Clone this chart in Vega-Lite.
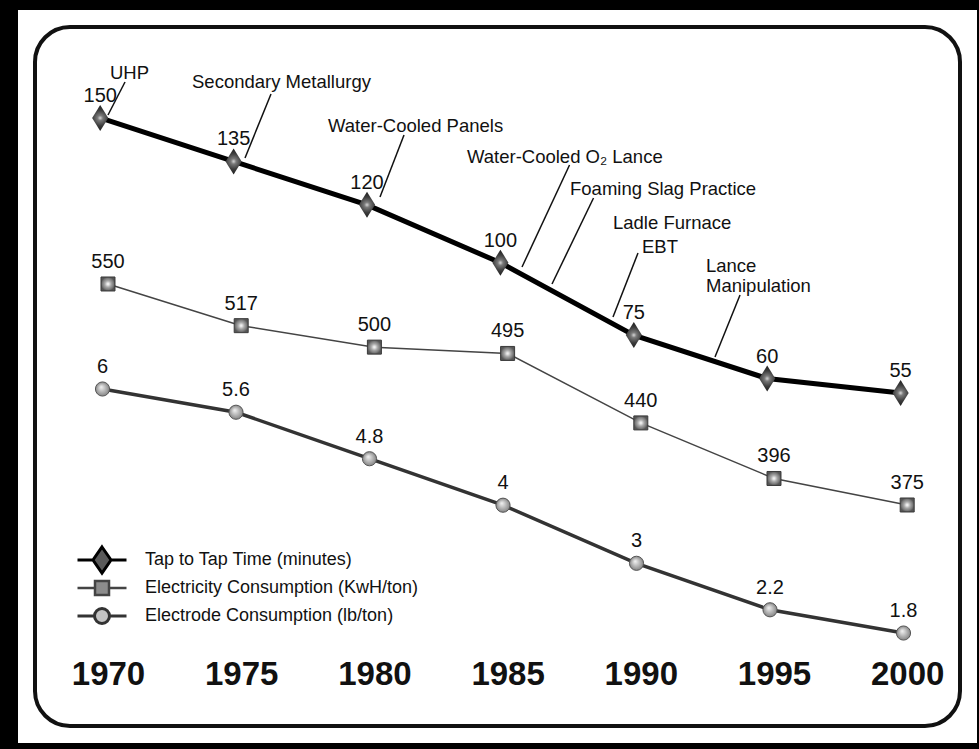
{
  "$schema": "https://vega.github.io/schema/vega-lite/v6.json",
  "width": 925,
  "height": 699,
  "autosize": "none",
  "padding": {"left": 35, "top": 27, "right": 19, "bottom": 23},
  "background": "#000000",
  "config": {
    "view": {"fill": "#ffffff", "stroke": "#ffffff", "strokeWidth": 34},
    "font": "Liberation Sans"
  },
  "datasets": {
    "tap": [
      {"year": 1970, "v": 150, "series": "Tap to Tap Time (minutes)"},
      {"year": 1975, "v": 135, "series": "Tap to Tap Time (minutes)"},
      {"year": 1980, "v": 120, "series": "Tap to Tap Time (minutes)"},
      {"year": 1985, "v": 100, "series": "Tap to Tap Time (minutes)"},
      {"year": 1990, "v": 75, "series": "Tap to Tap Time (minutes)"},
      {"year": 1995, "v": 60, "series": "Tap to Tap Time (minutes)"},
      {"year": 2000, "v": 55, "series": "Tap to Tap Time (minutes)"}
    ],
    "elec": [
      {"year": 1970, "v": 550, "series": "Electricity Consumption (KwH/ton)"},
      {"year": 1975, "v": 517, "series": "Electricity Consumption (KwH/ton)"},
      {"year": 1980, "v": 500, "series": "Electricity Consumption (KwH/ton)"},
      {"year": 1985, "v": 495, "series": "Electricity Consumption (KwH/ton)"},
      {"year": 1990, "v": 440, "series": "Electricity Consumption (KwH/ton)"},
      {"year": 1995, "v": 396, "series": "Electricity Consumption (KwH/ton)"},
      {"year": 2000, "v": 375, "series": "Electricity Consumption (KwH/ton)"}
    ],
    "electrode": [
      {"year": 1970, "v": 6, "series": "Electrode Consumption (lb/ton)"},
      {"year": 1975, "v": 5.6, "series": "Electrode Consumption (lb/ton)"},
      {"year": 1980, "v": 4.8, "series": "Electrode Consumption (lb/ton)"},
      {"year": 1985, "v": 4, "series": "Electrode Consumption (lb/ton)"},
      {"year": 1990, "v": 3, "series": "Electrode Consumption (lb/ton)"},
      {"year": 1995, "v": 2.2, "series": "Electrode Consumption (lb/ton)"},
      {"year": 2000, "v": 1.8, "series": "Electrode Consumption (lb/ton)"}
    ],
    "notes": [
      {"label": "UHP", "tx": 1970.367, "ty": 163.47},
      {"label": "Secondary Metallurgy", "tx": 1973.441, "ty": 160.36},
      {"label": "Water-Cooled Panels", "tx": 1978.538, "ty": 145.16},
      {"label": "Water-Cooled O₂ Lance", "tx": 1983.748, "ty": 134.45},
      {"label": "Foaming Slag Practice", "tx": 1987.609, "ty": 123.40},
      {"label": "Ladle Furnace", "tx": 1989.220, "ty": 111.65},
      {"label": "EBT", "tx": 1990.307, "ty": 103.36},
      {"label": "Lance\nManipulation", "tx": 1992.706, "ty": 96.80}
    ],
    "leaders": [
      {"label": "UHP", "x1": 1970.292, "v1": 151.03, "x2": 1970.930, "v2": 162.43},
      {"label": "Secondary Metallurgy", "x1": 1975.427, "v1": 136.18, "x2": 1976.402, "v2": 158.29},
      {"label": "Water-Cooled Panels", "x1": 1980.487, "v1": 122.71, "x2": 1981.387, "v2": 144.12},
      {"label": "Water-Cooled O₂ Lance", "x1": 1985.810, "v1": 98.53, "x2": 1987.591, "v2": 133.76},
      {"label": "Foaming Slag Practice", "x1": 1986.934, "v1": 92.66, "x2": 1988.490, "v2": 122.36},
      {"label": "EBT", "x1": 1989.220, "v1": 81.26, "x2": 1990.157, "v2": 103.36},
      {"label": "Lance Manipulation", "x1": 1993.043, "v1": 67.44, "x2": 1993.981, "v2": 88.86}
    ]
  },
  "layer": [
    {
      "data": {"values": [{}]},
      "mark": {"type": "rect", "fill": "#ffffff", "fillOpacity": 0, "stroke": "#111111", "strokeWidth": 4, "cornerRadius": 35},
      "encoding": {}
    },
    {
      "layer": [
        {
          "data": {"name": "tap"},
          "mark": {"type": "line", "strokeWidth": 5},
          "encoding": {
            "x": {"field": "year", "type": "quantitative", "scale": {"domain": [1967.556, 2002.226], "nice": false, "zero": false}, "axis": null},
            "y": {"field": "v", "type": "quantitative", "scale": {"domain": [-60.02, 181.43], "nice": false, "zero": false}, "axis": null},
            "color": {
              "field": "series", "type": "nominal",
              "scale": {"domain": ["Tap to Tap Time (minutes)", "Electricity Consumption (KwH/ton)", "Electrode Consumption (lb/ton)"], "range": ["#000000", "#444444", "#333333"]},
              "legend": {
                "title": null, "orient": "none", "direction": "vertical", "legendX": 58, "legendY": 524, "padding": 0,
                "symbolSize": 400, "symbolOffset": 0, "labelOffset": 34, "rowPadding": -5, "gridAlign": "all",
                "labelFont": "Liberation Sans", "labelFontSize": 18, "labelColor": "#111111", "labelLimit": 400,
                "encode": {
                  "symbols": {
                    "update": {
                      "shape": {"signal": "datum.value === 'Tap to Tap Time (minutes)' ? 'M-2.45,0H-0.9M0.9,0H2.45M0,-1.3L0.9,0L0,1.3L-0.9,0Z' : datum.value === 'Electricity Consumption (KwH/ton)' ? 'M-2.45,0H-0.7M0.7,0H2.45M-0.7,-0.7H0.7V0.7H-0.7Z' : 'M-2.45,0H-0.75M0.75,0H2.45M0.75,0A0.75,0.75,0,1,1,-0.75,0A0.75,0.75,0,1,1,0.75,0Z'"},
                      "size": {"value": 400},
                      "fill": {"signal": "datum.value === 'Tap to Tap Time (minutes)' ? '#5a5a5a' : datum.value === 'Electricity Consumption (KwH/ton)' ? '#8c8c8c' : '#c4c4c4'"},
                      "strokeWidth": {"signal": "datum.value === 'Tap to Tap Time (minutes)' ? 3 : datum.value === 'Electricity Consumption (KwH/ton)' ? 2.5 : 3"},
                      "opacity": {"value": 1},
                      "fillOpacity": {"value": 1},
                      "strokeOpacity": {"value": 1}
                    }
                  }
                }
              }
            }
          }
        },
        {
          "data": {"name": "leaders"},
          "mark": {"type": "rule", "color": "#111111", "strokeWidth": 1.5},
          "encoding": {
            "x": {"field": "x1", "type": "quantitative", "scale": {"domain": [1967.556, 2002.226], "nice": false, "zero": false}, "axis": null},
            "y": {"field": "v1", "type": "quantitative", "scale": {"domain": [-60.02, 181.43], "nice": false, "zero": false}, "axis": null},
            "x2": {"field": "x2"},
            "y2": {"field": "v2"}
          }
        },
        {
          "data": {"name": "notes"},
          "mark": {"type": "text", "align": "left", "baseline": "alphabetic", "fontSize": 18.5, "color": "#111111", "lineBreak": "\n", "lineHeight": 20},
          "encoding": {
            "x": {"field": "tx", "type": "quantitative", "scale": {"domain": [1967.556, 2002.226], "nice": false, "zero": false}, "axis": null},
            "y": {"field": "ty", "type": "quantitative", "scale": {"domain": [-60.02, 181.43], "nice": false, "zero": false}, "axis": null},
            "text": {"field": "label", "type": "nominal"}
          }
        },
        {
          "data": {"name": "tap"},
          "mark": {
            "type": "point", "filled": true, "size": 676, "opacity": 1, "strokeWidth": 0, "shape": "M0,-1L0.62,0L0,1L-0.62,0Z",
            "fill": {"gradient": "radial", "x1": 0.5, "y1": 0.5, "r1": 0, "x2": 0.5, "y2": 0.5, "r2": 0.5,
              "stops": [{"offset": 0, "color": "#dcdcdc"}, {"offset": 0.2, "color": "#7a7a7a"}, {"offset": 0.6, "color": "#3c3c3c"}, {"offset": 1, "color": "#1e1e1e"}]}
          },
          "encoding": {
            "x": {"field": "year", "type": "quantitative", "scale": {"domain": [1967.556, 2002.226], "nice": false, "zero": false}, "axis": null},
            "y": {"field": "v", "type": "quantitative", "scale": {"domain": [-60.02, 181.43], "nice": false, "zero": false}, "axis": null}
          }
        },
        {
          "data": {"name": "tap"},
          "mark": {"type": "text", "dy": -16, "baseline": "alphabetic", "fontSize": 20, "color": "#111111"},
          "encoding": {
            "x": {"field": "year", "type": "quantitative", "scale": {"domain": [1967.556, 2002.226], "nice": false, "zero": false}, "axis": null},
            "y": {"field": "v", "type": "quantitative", "scale": {"domain": [-60.02, 181.43], "nice": false, "zero": false}, "axis": null},
            "text": {"field": "v", "type": "nominal"}
          }
        }
      ]
    },
    {
      "data": {"name": "elec"},
      "layer": [
        {
          "mark": {"type": "line", "strokeWidth": 1.5},
          "encoding": {
            "x": {"field": "year", "type": "quantitative", "scale": {"domain": [1967.26, 2001.982], "nice": false, "zero": false},
              "axis": {"orient": "bottom", "values": [1970, 1975, 1980, 1985, 1990, 1995, 2000], "format": "d", "offset": -52, "domain": false, "ticks": false, "tickSize": 0, "grid": false, "title": null, "labelPadding": 0, "labelBaseline": "middle", "labelFont": "Liberation Sans", "labelFontWeight": "bold", "labelFontSize": 33, "labelColor": "#111111", "labelFlush": false, "labelOverlap": false}},
            "y": {"field": "v", "type": "quantitative", "scale": {"domain": [200, 753.5], "nice": false, "zero": false}, "axis": null},
            "color": {"field": "series", "type": "nominal", "scale": {"domain": ["Tap to Tap Time (minutes)", "Electricity Consumption (KwH/ton)", "Electrode Consumption (lb/ton)"], "range": ["#000000", "#444444", "#333333"]}}
          }
        },
        {
          "mark": {
            "type": "point", "filled": true, "size": 196, "opacity": 1, "shape": "square", "stroke": "#3a3a3a", "strokeWidth": 1,
            "fill": {"gradient": "radial", "x1": 0.5, "y1": 0.5, "r1": 0, "x2": 0.5, "y2": 0.5, "r2": 0.5,
              "stops": [{"offset": 0, "color": "#ffffff"}, {"offset": 0.2, "color": "#dcdcdc"}, {"offset": 0.45, "color": "#a8a8a8"}, {"offset": 0.8, "color": "#7a7a7a"}, {"offset": 1, "color": "#555555"}]}
          },
          "encoding": {
            "x": {"field": "year", "type": "quantitative", "scale": {"domain": [1967.26, 2001.982], "nice": false, "zero": false}},
            "y": {"field": "v", "type": "quantitative", "scale": {"domain": [200, 753.5], "nice": false, "zero": false}, "axis": null}
          }
        },
        {
          "mark": {"type": "text", "dy": -16, "baseline": "alphabetic", "fontSize": 20, "color": "#111111"},
          "encoding": {
            "x": {"field": "year", "type": "quantitative", "scale": {"domain": [1967.26, 2001.982], "nice": false, "zero": false}},
            "y": {"field": "v", "type": "quantitative", "scale": {"domain": [200, 753.5], "nice": false, "zero": false}, "axis": null},
            "text": {"field": "v", "type": "nominal"}
          }
        }
      ]
    },
    {
      "data": {"name": "electrode"},
      "layer": [
        {
          "mark": {"type": "line", "strokeWidth": 3.5},
          "encoding": {
            "x": {"field": "year", "type": "quantitative", "scale": {"domain": [1967.472, 2002.116], "nice": false, "zero": false}, "axis": null},
            "y": {"field": "v", "type": "quantitative", "scale": {"domain": [0.2, 12.23], "nice": false, "zero": false}, "axis": null},
            "color": {"field": "series", "type": "nominal", "scale": {"domain": ["Tap to Tap Time (minutes)", "Electricity Consumption (KwH/ton)", "Electrode Consumption (lb/ton)"], "range": ["#000000", "#444444", "#333333"]}}
          }
        },
        {
          "mark": {
            "type": "point", "filled": true, "size": 201, "opacity": 1, "shape": "circle", "stroke": "#555555", "strokeWidth": 1,
            "fill": {"gradient": "radial", "x1": 0.4, "y1": 0.35, "r1": 0, "x2": 0.5, "y2": 0.5, "r2": 0.5,
              "stops": [{"offset": 0, "color": "#f4f4f4"}, {"offset": 1, "color": "#858585"}]}
          },
          "encoding": {
            "x": {"field": "year", "type": "quantitative", "scale": {"domain": [1967.472, 2002.116], "nice": false, "zero": false}, "axis": null},
            "y": {"field": "v", "type": "quantitative", "scale": {"domain": [0.2, 12.23], "nice": false, "zero": false}, "axis": null}
          }
        },
        {
          "mark": {"type": "text", "dy": -16, "baseline": "alphabetic", "fontSize": 20, "color": "#111111"},
          "encoding": {
            "x": {"field": "year", "type": "quantitative", "scale": {"domain": [1967.472, 2002.116], "nice": false, "zero": false}, "axis": null},
            "y": {"field": "v", "type": "quantitative", "scale": {"domain": [0.2, 12.23], "nice": false, "zero": false}, "axis": null},
            "text": {"field": "v", "type": "nominal"}
          }
        }
      ]
    }
  ],
  "resolve": {"scale": {"x": "independent", "y": "independent"}}
}
